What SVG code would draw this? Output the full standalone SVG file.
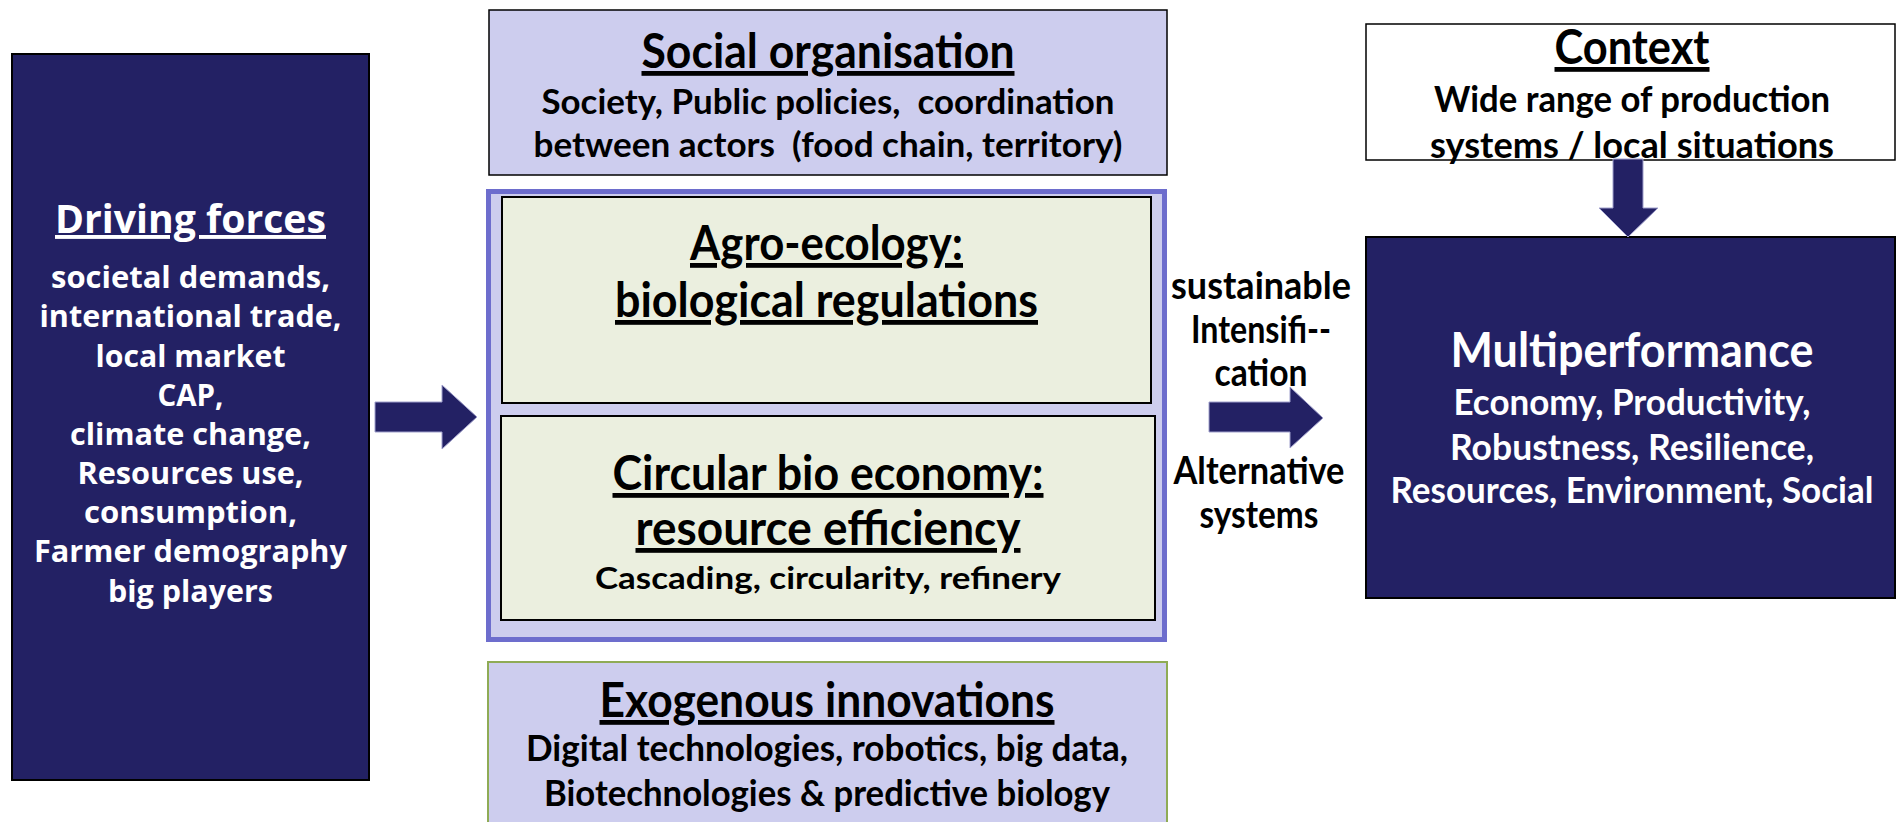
<svg xmlns="http://www.w3.org/2000/svg" width="1897" height="822" viewBox="0 0 1897 822">
<style>
.navy{fill:#232164;stroke:#000;stroke-width:2}
.lav{fill:#cdcdee;stroke:#000;stroke-width:1.5}
.green{fill:#ebefdf;stroke:#000;stroke-width:2}
.white{fill:#fff;stroke:#000;stroke-width:1.5}
text{font-family:Lato,"Liberation Sans",sans-serif;font-weight:700;text-anchor:middle}
.df{font-family:"Open Sans","DejaVu Sans",sans-serif;font-weight:700;fill:#fff}
.u{text-decoration:underline}
.dk{fill:#000}
.wt{fill:#fff}
.arrow{fill:#232164;stroke:#a0a0cc;stroke-width:1}
</style>
<rect width="1897" height="822" fill="#fff"/>

<g id="driving-forces">
<rect class="navy" x="12" y="54" width="357" height="726"/>
<text class="df u" x="190.5" y="233" font-size="39" textLength="271" lengthAdjust="spacingAndGlyphs">Driving forces</text>
<text class="df" x="190.5" y="288" font-size="31" textLength="279" lengthAdjust="spacingAndGlyphs">societal demands,</text>
<text class="df" x="190.5" y="327" font-size="31" textLength="302" lengthAdjust="spacingAndGlyphs">international trade,</text>
<text class="df" x="190.5" y="367" font-size="31" textLength="190" lengthAdjust="spacingAndGlyphs">local market</text>
<text class="df" x="190.5" y="406" font-size="31" textLength="66" lengthAdjust="spacingAndGlyphs">CAP,</text>
<text class="df" x="190.5" y="445" font-size="31" textLength="241" lengthAdjust="spacingAndGlyphs">climate change,</text>
<text class="df" x="190.5" y="484" font-size="31" textLength="226" lengthAdjust="spacingAndGlyphs">Resources use,</text>
<text class="df" x="190.5" y="523" font-size="31" textLength="213" lengthAdjust="spacingAndGlyphs">consumption,</text>
<text class="df" x="190.5" y="562" font-size="31" textLength="313" lengthAdjust="spacingAndGlyphs">Farmer demography</text>
<text class="df" x="190.5" y="602" font-size="31" textLength="165" lengthAdjust="spacingAndGlyphs">big players</text>
</g>

<g id="social-organisation">
<rect class="lav" x="489" y="10" width="678" height="165"/>
<text class="dk u" x="828" y="68" font-size="48" textLength="373" lengthAdjust="spacingAndGlyphs">Social organisation</text>
<text class="dk" x="828" y="114" font-size="34" textLength="573" lengthAdjust="spacingAndGlyphs" xml:space="preserve">Society, Public policies,  coordination</text>
<text class="dk" x="828" y="157" font-size="34" textLength="589" lengthAdjust="spacingAndGlyphs" xml:space="preserve">between actors  (food chain, territory)</text>
</g>

<g id="core-container">
<rect x="488.5" y="191.5" width="676" height="448" fill="#cdcdee" stroke="#6d6dcd" stroke-width="5"/>
</g>

<g id="agro-ecology">
<rect class="green" x="502" y="197" width="649" height="206"/>
<text class="dk u" x="826.5" y="260" font-size="48" textLength="273" lengthAdjust="spacingAndGlyphs">Agro-ecology:</text>
<text class="dk u" x="826.5" y="317" font-size="48" textLength="423" lengthAdjust="spacingAndGlyphs">biological regulations</text>
</g>

<g id="circular-bio-economy">
<rect class="green" x="501" y="416" width="654" height="204"/>
<text class="dk u" x="828" y="490" font-size="48" textLength="431" lengthAdjust="spacingAndGlyphs">Circular bio economy:</text>
<text class="dk u" x="828" y="545" font-size="48" textLength="385" lengthAdjust="spacingAndGlyphs">resource efficiency</text>
<text class="dk" x="828" y="589" font-size="31" textLength="466" lengthAdjust="spacingAndGlyphs">Cascading, circularity, refinery</text>
</g>

<g id="exogenous-innovations">
<rect x="488" y="662" width="679" height="170" fill="#cdcdee" stroke="#8fab55" stroke-width="2"/>
<text class="dk u" x="827" y="717" font-size="48" textLength="455" lengthAdjust="spacingAndGlyphs">Exogenous innovations</text>
<text class="dk" x="827" y="761" font-size="37" textLength="602" lengthAdjust="spacingAndGlyphs">Digital technologies, robotics, big data,</text>
<text class="dk" x="827" y="806" font-size="37" textLength="566" lengthAdjust="spacingAndGlyphs">Biotechnologies &amp; predictive biology</text>
</g>

<g id="context">
<rect class="white" x="1366" y="24" width="529" height="136"/>
<text class="dk u" x="1632" y="64" font-size="48" textLength="155" lengthAdjust="spacingAndGlyphs">Context</text>
<text class="dk" x="1632" y="112" font-size="37" textLength="396" lengthAdjust="spacingAndGlyphs">Wide range of production</text>
<text class="dk" x="1632" y="158" font-size="37" textLength="404" lengthAdjust="spacingAndGlyphs">systems / local situations</text>
</g>

<g id="multiperformance">
<rect class="navy" x="1366" y="237" width="529" height="361"/>
<text class="wt" x="1632" y="367" font-size="48" textLength="363" lengthAdjust="spacingAndGlyphs">Multiperformance</text>
<text class="wt" x="1632" y="415" font-size="37" textLength="357" lengthAdjust="spacingAndGlyphs">Economy, Productivity,</text>
<text class="wt" x="1632" y="460" font-size="37" textLength="364" lengthAdjust="spacingAndGlyphs">Robustness, Resilience,</text>
<text class="wt" x="1632" y="503" font-size="37" textLength="483" lengthAdjust="spacingAndGlyphs">Resources, Environment, Social</text>
</g>

<g id="connectors">
<polygon class="arrow" points="375,402 442,402 442,385 477,417 442,449 442,432 375,432"/>
<polygon class="arrow" points="1209,402 1290,402 1290,387 1323,418 1290,448 1290,432 1209,432"/>
<polygon class="arrow" points="1613,159 1643,159 1643,208 1658,208 1628,237 1599,208 1613,208"/>
<text class="dk" x="1261" y="299" font-size="38" textLength="180" lengthAdjust="spacingAndGlyphs">sustainable</text>
<text class="dk" x="1261" y="343" font-size="38" textLength="140" lengthAdjust="spacingAndGlyphs">Intensifi--</text>
<text class="dk" x="1261" y="386" font-size="38" textLength="93" lengthAdjust="spacingAndGlyphs">cation</text>
<text class="dk" x="1259" y="484" font-size="38" textLength="171" lengthAdjust="spacingAndGlyphs">Alternative</text>
<text class="dk" x="1259" y="528" font-size="38" textLength="119" lengthAdjust="spacingAndGlyphs">systems</text>
</g>
</svg>
